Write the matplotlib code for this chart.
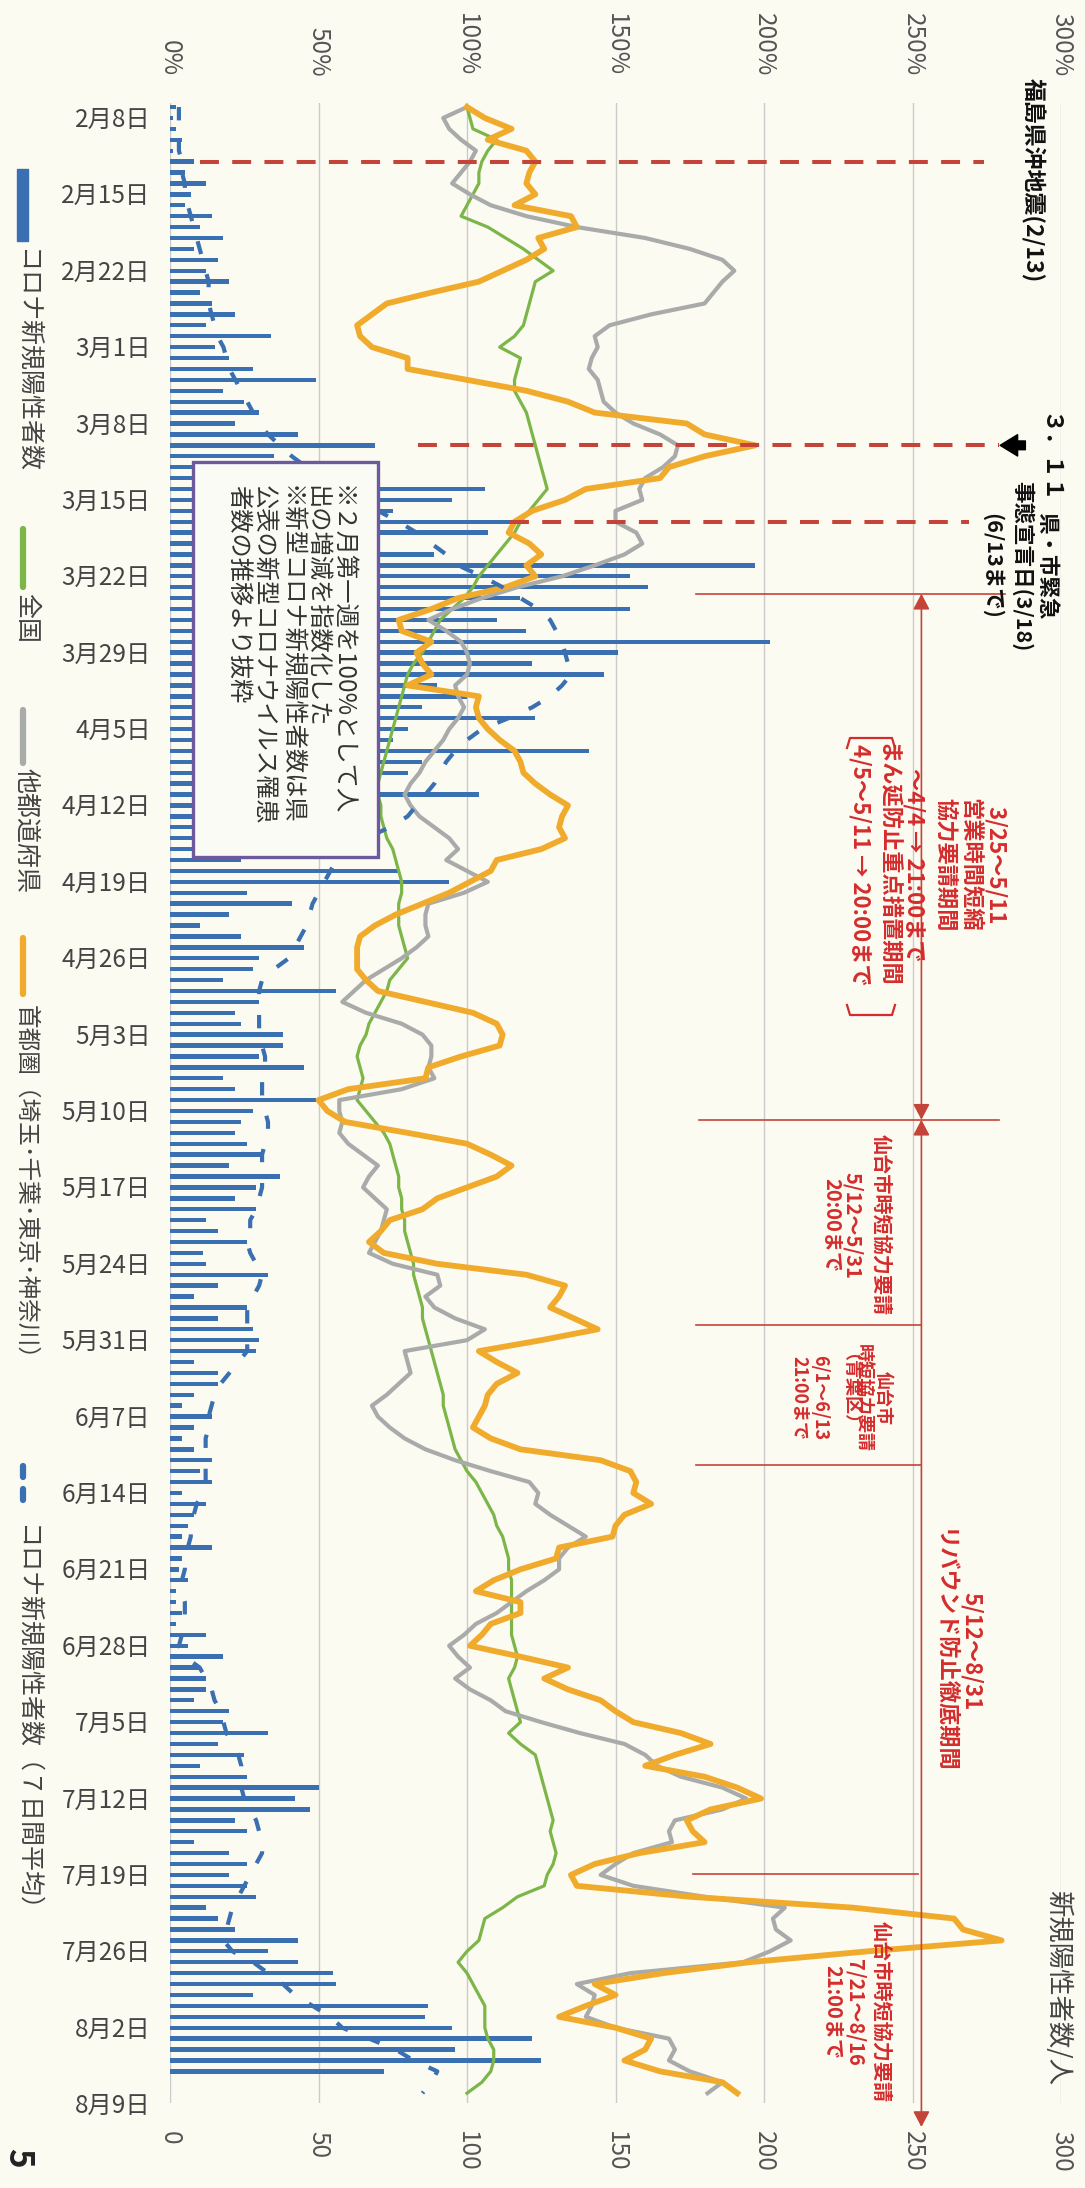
import datetime as dt
import matplotlib
matplotlib.use("Agg")
import matplotlib.pyplot as plt
from matplotlib.patches import Rectangle
from matplotlib.lines import Line2D

plt.rcParams['font.family'] = ['Noto Sans CJK JP', 'DejaVu Sans']

W, H = 1085, 2188
BG = '#fbfbf2'
START = dt.date(2021, 2, 8)

# ---------------- data ----------------
# daily new positive cases (Miyagi), 2/8 .. 8/7
new_cases = [2, 1, 2, 4, 1, 8, 5, 12, 7, 5, 14, 10, 18, 8, 16, 12, 20, 10, 14, 22,
             12, 34, 15, 20, 28, 49, 18, 25, 30, 22, 43, 69, 35, 40, 55, 106, 95, 75, 115, 107,
             60, 89,
             197, 155, 161, 118, 155, 110, 120, 202, 151, 122, 146, 90, 100, 85, 123, 80, 75, 141,
             85, 80, 70, 104, 60, 55, 70, 50, 45, 24, 77, 94, 26, 41, 20, 10, 24, 45, 30, 28,
             18, 56, 30, 22, 24, 38, 38, 30, 45, 18, 22, 49, 28,
             24, 22, 26, 31, 20, 37, 29, 22, 29, 12, 16, 26, 11, 12, 33, 16, 8, 26, 16, 28,
             30, 29, 8, 16, 16, 8, 4, 14, 8, 4, 8, 14, 10, 14, 4, 12, 8, 6, 4, 14,
             4, 3, 6, 2, 2, 4, 2,
             12, 6, 18, 10, 12, 12, 8, 20, 18, 33, 16, 25, 10, 26, 50, 42, 47, 22, 26, 8,
             20, 26, 20, 26, 29, 12, 16, 22, 43, 33, 43, 55, 56, 28, 87, 86, 95, 122, 96, 125,
             72]

# 7-day average of new cases, 2/8 .. 8/9
new_cases_avg7 = [3, 3, 3, 3, 3, 4, 4, 5, 5, 6, 7,
                  8, 9, 10, 11, 12, 13, 13, 13, 14, 15,
                  16, 18, 19, 20, 22, 24, 26, 28, 30, 33,
                  37, 41, 46, 50, 56, 62, 70, 77, 83, 88,
                  93, 97, 105, 112, 118, 124, 128, 130, 132, 133,
                  134, 135, 132, 128, 122, 114, 105, 100, 96, 93,
                  91, 89, 86, 83, 80, 74, 66, 59, 56, 54,
                  52, 50, 48, 47, 46, 44, 42, 40, 35, 31,
                  30, 30, 30, 30, 30, 31, 32, 32, 31, 31,
                  31, 32, 33, 33, 32, 31, 31, 31, 31, 30,
                  29, 27, 27, 26, 27, 29, 31, 30, 28, 26,
                  26, 26, 26, 26, 23, 20, 17, 15, 14, 13,
                  13, 12, 12, 12, 12, 12, 11, 9, 8, 7,
                  7, 6, 5, 5, 4, 4, 5, 5, 5, 4,
                  3, 5, 10, 12, 14, 15, 17, 18, 19, 21,
                  23, 24, 24, 24, 25, 27, 29, 30, 31, 31,
                  29, 27, 25, 23, 21, 20, 19, 18, 21, 28,
                  33, 38, 42, 48, 54, 58, 67, 76, 82, 90, 88, 85]

# people-flow index (first week of Feb = 100%), 2/8 .. 8/9
idx_national = [100, 101, 102, 110, 107, 105, 104, 104, 102, 100,
                98, 107, 113, 119, 124, 129, 123, 122, 121, 120,
                119, 116, 111, 118, 117, 116, 116, 118, 120, 121,
                122, 123, 124, 125, 126, 127, 124, 121, 118, 116,
                113, 110, 107, 104, 102, 99, 95, 91, 89, 87,
                85, 82, 80, 79, 78, 77, 76, 75, 74, 73,
                72, 71, 70, 70, 71, 71, 72, 73, 75, 76,
                77, 78, 78, 77, 77, 77, 78, 79, 80, 77,
                74, 73, 71, 69, 67, 66, 64, 63, 64, 65,
                64, 63, 66, 69, 72, 74, 75, 76, 77, 77,
                78, 78, 79, 79, 80, 81, 82, 82, 83, 84,
                85, 85, 86, 87, 88, 89, 90, 91, 92, 92,
                93, 94, 95, 96, 98, 100, 103, 105, 107, 109,
                110, 112, 113, 114, 114, 115, 115, 115, 115, 115,
                115, 116, 117, 116, 114, 115, 116, 117, 118, 114,
                118, 123, 124, 125, 126, 127, 128, 129, 128, 129,
                130, 129, 127, 126, 117, 112, 106, 105, 104, 100,
                97, 100, 102, 104, 106, 106, 106, 107, 109, 109,
                108, 105, 100]

idx_other = [100, 92, 94, 98, 103, 101, 98, 95, 101, 108,
             120, 137, 160, 175, 186, 190, 186, 183, 180, 162,
             148, 143, 144, 142, 141, 144, 145, 146, 150, 156,
             165, 171, 170, 166, 160, 158, 159, 150, 150, 157,
             159, 153, 143, 132, 117, 105, 95, 87, 93, 98,
             100, 101, 100, 96, 97, 99, 97, 94, 92, 89,
             86, 84, 81, 79, 81, 84, 89, 94, 97, 93,
             100, 107, 99, 87, 86, 86, 87, 83, 78, 72,
             66, 62, 58, 66, 78, 85, 88, 88, 87, 89,
             78, 57, 57, 58, 57, 60, 65, 70, 67, 65,
             69, 73, 72, 71, 69, 67, 75, 90, 91, 86,
             89, 96, 106, 100, 79, 80, 81, 77, 73, 68,
             70, 74, 79, 86, 96, 108, 121, 124, 123, 128,
             134, 140, 134, 131, 131, 126, 120, 115, 110, 103,
             99, 94, 97, 101, 96, 101, 108, 113, 125, 138,
             153, 160, 164, 172, 186, 194, 186, 170, 168, 169,
             156, 150, 145, 156, 180, 207, 203, 204, 209, 202,
             193, 155, 137, 143, 142, 140, 150, 168, 170, 168,
             175, 186, 181]

idx_capital = [100, 106, 115, 107, 120, 123, 121, 120, 123, 116,
               135, 137, 124, 126, 120, 112, 104, 88, 73, 68,
               63, 64, 68, 80, 80, 100, 120, 134, 143, 174,
               180, 197, 180, 168, 165, 140, 133, 122, 116, 114,
               121, 125, 120, 123, 113, 97, 88, 77, 78, 88,
               83, 85, 88, 80, 104, 103, 104, 107, 111, 116,
               118, 119, 123, 128, 134, 132, 131, 133, 125, 110,
               108, 101, 94, 85, 76, 69, 64, 63, 63, 63,
               66, 70, 86, 102, 110, 112, 111, 98, 87, 86,
               60, 50, 53, 59, 80, 100, 108, 115, 110, 100,
               90, 85, 74, 71, 67, 72, 90, 120, 133, 131,
               128, 136, 144, 125, 104, 110, 117, 110, 107, 106,
               104, 102, 108, 118, 145, 155, 157, 156, 162, 153,
               150, 149, 131, 130, 118, 109, 103, 118, 118, 108,
               105, 101, 118, 134, 126, 134, 145, 150, 156, 172,
               182, 170, 160, 180, 191, 199, 182, 174, 176, 180,
               158, 143, 135, 137, 175, 230, 264, 267, 280, 235,
               195, 166, 143, 150, 140, 131, 150, 162, 160, 153,
               165, 186, 191]

count_ticks = [0, 50, 100, 150, 200, 250, 300]
pct_labels = [f"{v}%" for v in count_ticks]
tick_dates = [START + dt.timedelta(days=7 * k) for k in range(27)]
tick_labels = [f"{d.month}月{d.day}日" for d in tick_dates]

C_BAR = '#3a6fb1'
C_GREEN = '#7cb548'
C_GRAY = '#a9abaa'
C_ORANGE = '#f1ab2c'
C_RED_LINE = '#c4443a'
C_RED_TXT = '#d42c2c'


def day_of(s):
    return (dt.date.fromisoformat(s) - START).days


# ---------------- figure ----------------
fig = plt.figure(figsize=(W / 100, H / 100), dpi=100, facecolor=BG)
ax = fig.add_axes([170 / W, 1 - 2103 / H, 891 / W, 2000 / H])
ax.set_facecolor('none')
ax.set_xlim(0, 300)
ax.set_ylim(182.4, -0.37)
for s in ax.spines.values():
    s.set_visible(False)

ax.set_xticks(count_ticks)
ax.set_xticklabels([str(v) for v in count_ticks], rotation=-90, fontsize=17.5, color='#555555')
ax.tick_params(axis='x', length=0, pad=20)
ax.grid(axis='x', color='#cbcbcb', lw=1.0)
ax.set_axisbelow(True)

ytick_pos = [(d - START).days + 0.9 for d in tick_dates]
ax.set_yticks(ytick_pos)
ax.set_yticklabels(tick_labels, fontsize=17.5, color='#444444')
ax.tick_params(axis='y', length=0, pad=14)

sec = ax.secondary_xaxis('top')
sec.set_xticks(count_ticks)
sec.set_xticklabels(pct_labels, rotation=-90, fontsize=17.5, color='#555555')
sec.tick_params(length=0, pad=19)
for s in sec.spines.values():
    s.set_visible(False)

days_bar = list(range(len(new_cases)))
days_line = list(range(len(idx_national)))
ax.barh(days_bar, new_cases, height=0.4, color=C_BAR, zorder=2)
ax.plot(new_cases_avg7, days_line, color=C_BAR, lw=3.0, ls=(0, (3.2, 5.0)), zorder=6)
ax.plot(idx_national, days_line, color=C_GREEN, lw=2.3, zorder=3)
ax.plot(idx_other, days_line, color=C_GRAY, lw=3.0, zorder=4)
ax.plot(idx_capital, days_line, color=C_ORANGE, lw=4.2, zorder=5)

# event dashed lines
for dstr, x0, x1 in [("2021-02-13", 10, 274), ("2021-03-11", 83.5, 279), ("2021-03-18", 114.5, 269)]:
    d = day_of(dstr)
    ax.plot([x0, x1], [d, d], color=C_RED_LINE, lw=2.9, ls=(0, (4.7, 3.3)), zorder=7,
            dash_capstyle='butt', clip_on=False)

# black arrow pointing at 3/11 line
ax.annotate('', xy=(279.5, day_of("2021-03-11")), xytext=(288, day_of("2021-03-11")),
            arrowprops=dict(arrowstyle='simple,head_length=0.9,head_width=1.1,tail_width=0.45',
                            color='black', shrinkA=0, shrinkB=0, mutation_scale=14),
            annotation_clip=False, zorder=8)

# period boundary lines
for d, x0, x1 in [(44.6, 177, 281), (92.8, 178, 279), (111.6, 177, 253), (124.4, 177, 253), (161.9, 176, 252)]:
    ax.plot([x0, x1], [d, d], color=C_RED_LINE, lw=1.2, zorder=7, clip_on=False)
for d0, d1 in [(44.6, 92.8), (92.8, 185.1)]:
    ax.annotate('', xy=(253, d1), xytext=(253, d0),
                arrowprops=dict(arrowstyle='<|-|>,head_length=0.95,head_width=0.5', color=C_RED_LINE,
                                lw=1.2, shrinkA=0, shrinkB=0, mutation_scale=10),
                annotation_clip=False, zorder=7)


# ---------------- texts (figure pixel coordinates) ----------------
def ftext(x, y, s, size, color='#333333', weight='normal', va='top', ha='center'):
    fig.text(x / W, 1 - y / H, s, fontsize=size, color=color, fontweight=weight,
             rotation=-90, va=va, ha=ha, zorder=10)


def fline(xs, ys, color, lw, **kw):
    fig.add_artist(Line2D([x / W for x in xs], [1 - y / H for y in ys], color=color, lw=lw,
                          transform=fig.transFigure, **kw))


# legend (left)
fig.add_artist(Rectangle((17 / W, 1 - 241 / H), 11 / W, 72 / H, transform=fig.transFigure,
                         color=C_BAR, zorder=5))
ftext(26, 248, "コロナ新規陽性者数", 18, '#444444')
fline([23, 23], [529, 587], C_GREEN, 4.5, solid_capstyle='round')
ftext(26, 593, "全国", 18, '#444444')
fline([23, 23], [710, 763], C_GRAY, 4.5, solid_capstyle='round')
ftext(26, 768, "他都道府県", 18, '#444444')
fline([23, 23], [938, 994], C_ORANGE, 4.5, solid_capstyle='round')
ftext(26, 1005, "首都圏（埼玉･千葉･東京･神奈川）", 17, '#444444')
fline([23, 23], [1466, 1477], C_BAR, 4.5, solid_capstyle='round')
fline([23, 23], [1489, 1500], C_BAR, 4.5, solid_capstyle='round')
ftext(26, 1524, "コロナ新規陽性者数（７日間平均）", 18, '#444444')
ftext(18, 2148, "5", 24, '#222222', 'bold')

# note box
fig.add_artist(Rectangle((193 / W, 1 - 857 / H), 185 / W, 395 / H, transform=fig.transFigure,
                         facecolor='#fbfbf5', edgecolor='#6c5a9c', lw=2.4, zorder=9))
note_lines = ["※２月第一週を100%として人", "出の増減を指数化した", "※新型コロナ新規陽性者数は県",
              "公表の新型コロナウイルス罹患", "者数の推移より抜粋"]
for i, s in enumerate(note_lines):
    ftext(342 - 26 * i, 485, s, 17.5, '#333333')

# top right
ftext(1032, 78, "福島県沖地震(2/13)", 16.5, '#111111', 'bold')
ftext(1048, 413, "３．１１", 16.5, '#111111', 'bold')
for x, s in [(1047, "県・市緊急"), (1022, "事態宣言日(3/18)"), (992, "(6/13まで)")]:
    ftext(x, 566, s, 15.5, '#111111', 'bold', va='center')

# red annotation blocks
for x, s in [(995, "3/25～5/11"), (970, "営業時間短縮"), (944, "協力要請期間"),
             (914, "～4/4 → 21:00まで"), (888, "まん延防止重点措置期間"), (860, "4/5～5/11 → 20:00まで")]:
    ftext(x, 865, s, 16, C_RED_TXT, 'bold', va='center')
fline([847, 850, 892, 895], [748, 738, 738, 748], C_RED_TXT, 1.6)
fline([847, 850, 892, 895], [1005, 1015, 1015, 1005], C_RED_TXT, 1.6)

for x, s in [(882, "仙台市時短協力要請"), (853, "5/12～5/31"), (832, "20:00まで")]:
    ftext(x, 1225, s, 14.5, C_RED_TXT, 'bold', va='center')
for x, s in [(883, "仙台市"), (863, "時短協力要請"), (841, "（青葉区）"), (820, "6/1～6/13"), (799, "21:00まで")]:
    ftext(x, 1398, s, 13, C_RED_TXT, 'bold', va='center')
for x, s in [(971, "5/12～8/31"), (944, "リバウンド防止徹底期間")]:
    ftext(x, 1651, s, 16, C_RED_TXT, 'bold', va='center')
for x, s in [(882, "仙台市時短協力要請"), (855, "7/21～8/16"), (833, "21:00まで")]:
    ftext(x, 2012, s, 14.5, C_RED_TXT, 'bold', va='center')

ftext(1058, 1890, "新規陽性者数/人", 19, '#444444')

fig.savefig("out.png", dpi=100, facecolor=BG)
